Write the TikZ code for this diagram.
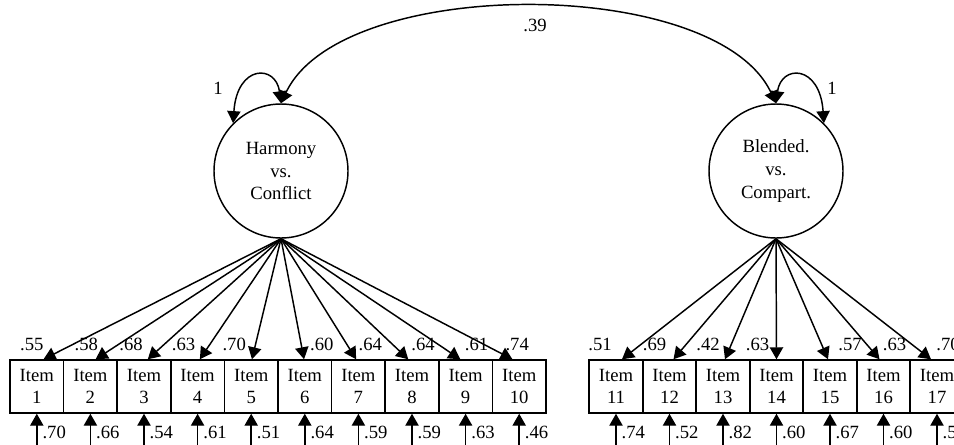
\documentclass[tikz,border=0pt]{standalone}
\usepackage{fontspec}
\setmainfont{Liberation Serif}
\usetikzlibrary{arrows.meta, calc, positioning}
\tikzset{
	semtext/.style={font=\fontsize{14}{17}\selectfont}
}
\tikzset{
	latent/.style={semtext, draw, circle, minimum size=100.5pt, inner sep=0pt, align=center},
	itembox/.style={semtext, draw, rectangle, minimum width=40.2pt, minimum height=39.75pt, inner sep=0pt, align=center},
	coef/.style={semtext, inner sep=0pt},
	semarrow/.style={-{Triangle[width=10pt,length=9pt]}},
	twoway/.style={{Triangle[width=10pt,length=9pt]}-{Triangle[width=10pt,length=9pt]}}
}

\begin{document}
\begin{tikzpicture}[x=0.75pt, y=-0.75pt, line width=1.1pt]
      \useasboundingbox (0,0) rectangle (954,444);
      \node[latent] (hc) at (281,171) {Harmony\\vs.\\Conflict};
      \node[latent] (bc) at (776,171) {Blended.\\vs.\\Compart.};
      % covariance between the two factors
      \draw[twoway] (hc.north) .. controls (341,-25) and (716,-25) .. (bc.north);
      \node[coef] (cov) at (535,25) {.39};
      % variances fixed to 1
      \draw[twoway] (hc.north) .. controls +(-5,-39) and +(4,-59) .. (hc.135);
      \node[coef] (vhc) at (218,88) {1};
      \draw[twoway] (bc.north) .. controls +(5,-39) and +(-4,-59) .. (bc.45);
      \node[coef] (vbc) at (832,88) {1};
      % items 1-10
      \foreach \n/\ld/\lx/\ed in {
        1/.55/-5/.70, 2/.58/-4/.66, 3/.68/-13/.54, 4/.63/-14/.61, 5/.70/-17/.51,
        6/.60/17/.64, 7/.64/12/.59, 8/.64/11/.59, 9/.61/11/.63, 10/.74/-2/.46} {
        \node[itembox] (i\n) at ({36.8+53.6*(\n-1)},386.5) {Item\\\n};
        \draw[semarrow] (hc.south) -- ($(i\n.north)+({(5.5-\n)*1.5},0)$);
        \node[coef] (l\n) at ($(i\n.north)+(\lx,-15)$) {\ld};
        \coordinate (e\n) at ($(i\n.south)+(0,47)$);
        \draw[semarrow] (e\n) -- (i\n.south);
        \node[coef, anchor=west] (d\n) at ($(i\n.south)+(5,19)$) {\ed};
      }
      % items 11-17
      \foreach \n/\ld/\lx/\ed in {
        11/.51/-16/.74, 12/.69/-15/.52, 13/.42/-15/.82, 14/.63/-19/.60,
        15/.57/20/.67, 16/.63/11/.60, 17/.70/11/.5} {
        \node[itembox] (i\n) at ({616+53.5*(\n-11)},386.5) {Item\\\n};
        \draw[semarrow] (bc.south) -- ($(i\n.north)+({(14-\n)*2},0)$);
        \node[coef] (l\n) at ($(i\n.north)+(\lx,-15)$) {\ld};
        \coordinate (e\n) at ($(i\n.south)+(0,47)$);
        \draw[semarrow] (e\n) -- (i\n.south);
        \node[coef, anchor=west] (d\n) at ($(i\n.south)+(5,19)$) {\ed};
      }
    \end{tikzpicture}
\end{document}
